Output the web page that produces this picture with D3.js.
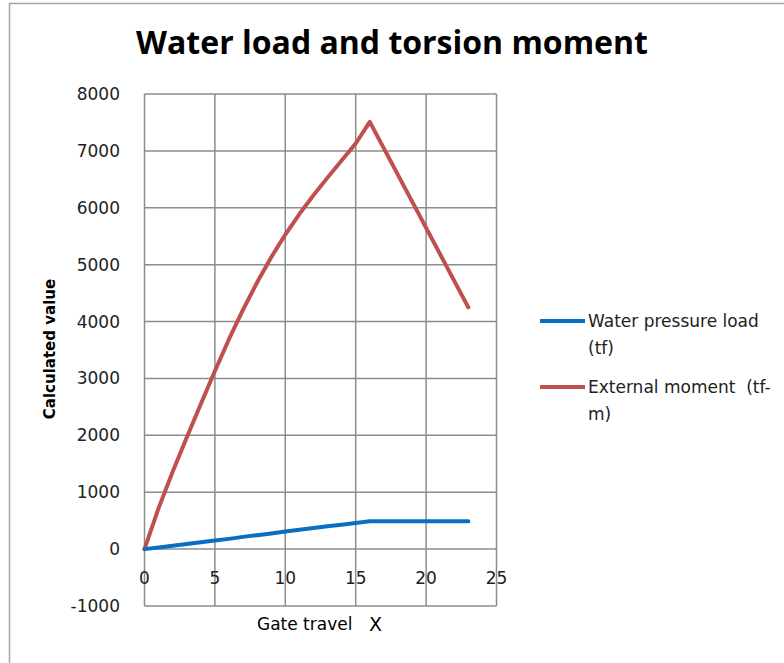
<!DOCTYPE html>
<html>
<head>
<meta charset="utf-8">
<script src="https://cdn.jsdelivr.net/npm/d3@7"></script>
<style>
  body { margin: 0; background: #fff; }
  text { font-family: 'DejaVu Sans', sans-serif; white-space: pre; }
</style>
</head>
<body>
<svg id="chart" width="784" height="663"></svg>
<script>
'use strict';

// gate travel X
const travel = [0, 1, 2, 3, 4, 5, 6, 7, 8, 9, 10, 11, 12, 13, 14, 15, 16, 23];
// water pressure load (tf)
const waterLoad = [0, 30, 60, 90, 120, 150, 180, 215, 245, 275, 310, 340, 370, 400, 430, 460, 490, 490];
// external moment (tf-m)
const extMoment = [0, 720, 1360, 1960, 2550, 3130, 3690, 4210, 4690, 5130, 5530, 5890, 6220, 6530, 6830, 7130, 7510, 4250];

const xTicks = [0, 5, 10, 15, 20, 25];
const yTicks = [-1000, 0, 1000, 2000, 3000, 4000, 5000, 6000, 7000, 8000];

const series = [
  { name: ['Water pressure load', '(tf)'], values: waterLoad, color: '#0a6fc2' },
  { name: ['External moment  (tf-', 'm)'], values: extMoment, color: '#c0504d' }
];

const svg = d3.select('#chart');

// outer frame
svg.append('rect')
  .attr('x', 9.5).attr('y', 3.5)
  .attr('width', 800).attr('height', 700)
  .attr('fill', 'none')
  .attr('stroke', '#a6a6a6')
  .attr('stroke-width', 1.5);

const x = d3.scaleLinear().domain([0, 25]).range([144.5, 496.5]);
const y = d3.scaleLinear().domain([-1000, 8000]).range([606, 94]);

// title
svg.append('text')
  .attr('x', 392).attr('y', 54)
  .attr('text-anchor', 'middle')
  .style('font-family', "'Open Sans', sans-serif")
  .style('font-size', '32px')
  .style('font-weight', 'bold')
  .text('Water load and torsion moment');

// grid
const grid = svg.append('g')
  .attr('stroke', '#8c8c8c')
  .attr('stroke-width', 1.5);

grid.selectAll('.h')
  .data(yTicks)
  .enter().append('line')
  .attr('x1', x(0)).attr('x2', x(25))
  .attr('y1', d => y(d)).attr('y2', d => y(d));

grid.selectAll('.v')
  .data(xTicks)
  .enter().append('line')
  .attr('x1', d => x(d)).attr('x2', d => x(d))
  .attr('y1', y(8000)).attr('y2', y(-1000));

// y tick labels, centred on the grid lines
svg.append('g')
  .selectAll('text')
  .data(yTicks)
  .enter().append('text')
  .attr('x', 120)
  .attr('y', d => y(d) + 6)
  .attr('text-anchor', 'end')
  .style('font-size', '17px')
  .attr('fill', '#222')
  .text(d => d);

// x tick labels sit under the zero line
svg.append('g')
  .selectAll('text')
  .data(xTicks)
  .enter().append('text')
  .attr('x', d => x(d))
  .attr('y', y(0) + 35)
  .attr('text-anchor', 'middle')
  .style('font-size', '17px')
  .attr('fill', '#222')
  .text(d => d);

// axis titles
svg.append('text')
  .attr('transform', 'translate(55,349) rotate(-90)')
  .attr('text-anchor', 'middle')
  .style('font-size', '15px')
  .style('font-weight', 'bold')
  .text('Calculated value');

svg.append('text')
  .attr('x', 257).attr('y', 630)
  .style('font-size', '17px')
  .text('Gate travel');

svg.append('text')
  .attr('x', 369).attr('y', 631)
  .style('font-size', '19px')
  .text('X');

// series lines
const line = d3.line()
  .x((d, i) => x(travel[i]))
  .y(d => y(d));

svg.append('g')
  .selectAll('path')
  .data(series.slice().reverse())
  .enter().append('path')
  .attr('d', d => line(d.values))
  .attr('fill', 'none')
  .attr('stroke', d => d.color)
  .attr('stroke-width', 4)
  .attr('stroke-linejoin', 'round')
  .attr('stroke-linecap', 'round');

// legend
const legend = svg.append('g')
  .selectAll('g')
  .data(series)
  .enter().append('g')
  .attr('transform', (d, i) => `translate(540,${321 + i * 66})`);

legend.append('line')
  .attr('x1', 0).attr('x2', 45)
  .attr('stroke', d => d.color)
  .attr('stroke-width', 4);

legend.append('text')
  .attr('y', 6)
  .style('font-size', '17px')
  .attr('fill', '#222')
  .selectAll('tspan')
  .data(d => d.name)
  .enter().append('tspan')
  .attr('x', 48)
  .attr('dy', (d, i) => i ? 27 : 0)
  .text(d => d);
</script>
</body>
</html>
